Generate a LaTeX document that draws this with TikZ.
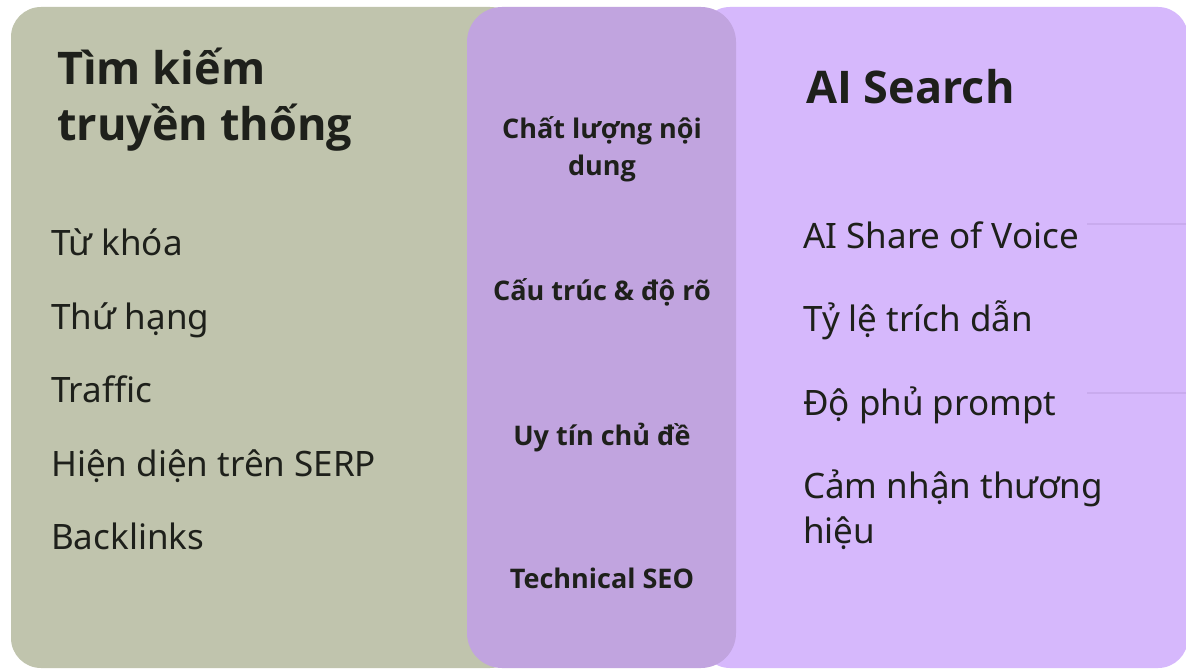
\documentclass[tikz,border=0pt]{standalone}
\usepackage{fontspec}
\setmainfont{Noto Sans}
\newfontfamily\headfont{Open Sans}
\usetikzlibrary{positioning}
\definecolor{oldGreen}{HTML}{C0C4AD}
\definecolor{midPurple}{HTML}{C1A4DF}
\definecolor{aiPurple}{HTML}{D6B8FC}
\definecolor{lineyPurple}{HTML}{C9ABEE}
\definecolor{inkDark}{HTML}{1E201B}

\begin{document}
\begin{tikzpicture}[
    x=1pt, y=-1pt,
    panel/.style={%
      rounded corners=30pt,
    },
    heading/.style={%
      font=\headfont\fontsize{45}{56}\selectfont\bfseries,
      text=inkDark,
      inner sep=0pt,
      align=left,
      anchor=base west,
    },
    item/.style={%
      font=\fontsize{35}{45}\selectfont,
      text=inkDark,
      inner sep=0pt,
      align=left,
      anchor=base west,
    },
    pillar/.style={%
      font=\headfont\fontsize{27}{37}\selectfont\bfseries,
      text=inkDark,
      inner sep=0pt,
      align=center,
      anchor=base,
    },
  ]
    \useasboundingbox (0,0) rectangle (1186,669);
    \fill [white] (0,0) rectangle (1186,669);

    \fill [panel, aiPurple] (700,7) rectangle (1188,668);
    \fill [panel, oldGreen] (11,7) rectangle (520,668);
    \fill [panel, midPurple, rounded corners=35pt] (467,7) rectangle (736,668);

    \coordinate (g1a) at (1087,224);
    \coordinate (g1b) at (1186,224);
    \coordinate (g2a) at (1087,393);
    \coordinate (g2b) at (1186,393);
    \draw [lineyPurple, line width=2pt] (g1a) -- (g1b);
    \draw [lineyPurple, line width=2pt] (g2a) -- (g2b);

    \node [heading] (T) at (57,140) {Tìm kiếm\\truyền thống};
    \node [item] (K) at (51,255) {Từ khóa};
    \path (K.base west) ++(0,74) node [item] (R) {Thứ hạng};
    \path (R.base west) ++(0,73) node [item] (F) {Traffic};
    \path (F.base west) ++(0,74) node [item] (S) {Hiện diện trên SERP};
    \path (S.base west) ++(0,73) node [item] (B) {Backlinks};

    \node [pillar] (P1) at (602,175) {Chất lượng nội\\dung};
    \node [pillar] (P2) at (602,300) {Cấu trúc \& độ rõ};
    \node [pillar] (P3) at (602,445) {Uy tín chủ đề};
    \node [pillar] (P4) at (602,588) {Technical SEO};

    \node [heading] (A) at (806,103) {AI Search};
    \node [item] (V) at (803,248) {AI Share of Voice};
    \node [item] (C) at (803,331) {Tỷ lệ trích dẫn};
    \node [item] (M) at (803,415) {Độ phủ prompt};
    \node [item] (N) at (803,543) {Cảm nhận thương\\hiệu};
\end{tikzpicture}
\end{document}
